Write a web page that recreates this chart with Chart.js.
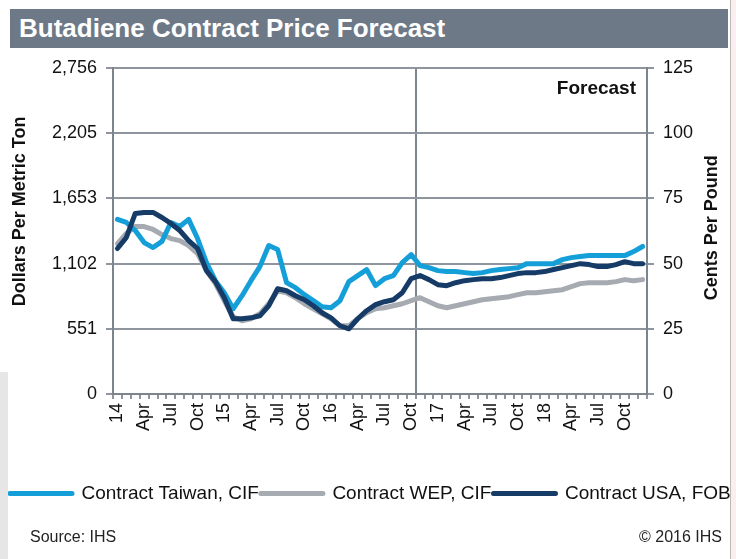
<!DOCTYPE html>
<html>
<head>
<meta charset="utf-8">
<script src="https://cdn.jsdelivr.net/npm/chart.js@4.4.1/dist/chart.umd.min.js"></script>
<style>
  body { margin:0; width:736px; height:559px; overflow:hidden; background:#fbeeee; position:relative;
         font-family:"Liberation Sans", Arial, sans-serif; }
  #page { position:absolute; left:0; top:0; width:730px; height:559px; background:#fff;
          border-right:1px solid #b9b9b9; overflow:hidden; }
  #shade { position:absolute; left:0; top:372px; width:8px; height:187px; background:#e6e6e6; }
  #title { position:absolute; left:10px; top:9px; width:709px; height:39px; padding-left:9px;
           background:#6e7987; color:#fff; font-weight:bold; font-size:26px; line-height:39px; }
  #chart { position:absolute; left:0; top:0; }
  .foot { position:absolute; top:528px; font-size:16px; color:#222; }
</style>
</head>
<body>
<div id="page">
  <div id="shade"></div>
  <div id="title">Butadiene Contract Price Forecast</div>
  <canvas id="chart" width="780" height="559"></canvas>
  <div class="foot" style="left:30px">Source: IHS</div>
  <div class="foot" style="right:8px">© 2016 IHS</div>
</div>
<script>
// monthly categories, Jan 2014 - Dec 2018
const years = [2014, 2015, 2016, 2017, 2018];
const monthNames = ['Jan','Feb','Mar','Apr','May','Jun','Jul','Aug','Sep','Oct','Nov','Dec'];
const months = [];
years.forEach(y => monthNames.forEach(m => months.push(m + ' ' + y)));
const forecastStart = 'Nov 2016';

// tick labels
const xTickLabels = { Jan: 'year', Apr: 'Apr', Jul: 'Jul', Oct: 'Oct' };
const yTickValues = [0, 551.2, 1102.4, 1653.6, 2204.8, 2756];
const yTickLabels = ['0', '551', '1,102', '1,653', '2,205', '2,756'];

// dollars per metric ton
const taiwan = [1476,1450,1382,1280,1238,1290,1450,1416,1476,1314,
                1111,958,856,721,831,958,1077,1255,1221,941,
                899,840,789,738,729,789,950,1001,1052,916,
                975,1001,1111,1179,1085,1068,1043,1035,1035,1026,
                1018,1026,1043,1052,1060,1068,1102,1102,1102,1102,
                1136,1153,1162,1170,1170,1170,1170,1170,1204,1247];
const wep = [1272,1357,1416,1416,1391,1348,1314,1297,1255,1187,
             1043,933,789,653,619,636,678,763,873,856,
             814,763,721,678,636,577,577,636,687,721,
             729,746,763,789,814,780,746,729,746,763,
             780,797,806,814,823,840,856,856,865,873,
             882,907,933,941,941,941,950,967,958,967];
const usa = [1230,1323,1526,1535,1535,1492,1442,1382,1297,1230,
             1043,950,814,636,636,644,661,746,890,873,
             831,797,746,687,644,577,551,636,704,755,
             780,797,856,975,1001,967,924,916,941,958,
             967,975,975,984,1001,1018,1026,1026,1035,1052,
             1068,1085,1102,1094,1077,1077,1094,1119,1102,1102];

const FONT = '"Liberation Sans", Arial, sans-serif';
const GRID = '#8e959e';
const AXIS = '#7c848e';

const extraText = {
  id: 'extraText',
  afterDraw(chart) {
    const { ctx, chartArea } = chart;
    ctx.save();
    ctx.fillStyle = '#111';
    ctx.font = 'bold 18px ' + FONT;
    ctx.textAlign = 'center';
    ctx.textBaseline = 'middle';
    ctx.save();
    ctx.translate(chartArea.left - 93, chartArea.top + chartArea.height * 0.44);
    ctx.rotate(-Math.PI / 2);
    ctx.fillText('Dollars Per Metric Ton', 0, 0);
    ctx.restore();
    ctx.save();
    ctx.translate(chartArea.right + 65, chartArea.top + chartArea.height * 0.49);
    ctx.rotate(-Math.PI / 2);
    ctx.fillText('Cents Per Pound', 0, 0);
    ctx.restore();
    ctx.font = 'bold 19px ' + FONT;
    ctx.textAlign = 'right';
    ctx.fillText('Forecast', chartArea.right - 11, chartArea.top + 21);
    ctx.restore();
  }
};

new Chart(document.getElementById('chart'), {
  type: 'line',
  data: {
    labels: months,
    datasets: [
      { label: 'Contract Taiwan, CIF', data: taiwan, borderColor: '#159fd8', backgroundColor: '#159fd8', order: 1 },
      { label: 'Contract WEP, CIF', data: wep, borderColor: '#a5abb1', backgroundColor: '#a5abb1', order: 2 },
      { label: 'Contract USA, FOB', data: usa, borderColor: '#163b66', backgroundColor: '#163b66', order: 0 }
    ]
  },
  options: {
    responsive: false,
    animation: false,
    devicePixelRatio: 1,
    layout: { padding: { left: 8, right: 0, top: 68, bottom: 46 } },
    elements: {
      line: { borderWidth: 5, tension: 0, borderJoinStyle: 'round', borderCapStyle: 'round' },
      point: { radius: 0 }
    },
    plugins: {
      tooltip: { enabled: false },
      legend: {
        position: 'bottom',
        align: 'start',
        labels: {
          usePointStyle: true,
          pointStyle: 'line',
          pointStyleWidth: 62,
          padding: 2,
          color: '#111',
          font: { family: FONT, size: 19 },
          sort: (a, b) => a.datasetIndex - b.datasetIndex,
          generateLabels: chart =>
            Chart.defaults.plugins.legend.labels.generateLabels(chart).map(item => {
              const ds = chart.data.datasets[item.datasetIndex];
              return { ...item, strokeStyle: ds.borderColor, fillStyle: ds.borderColor, lineWidth: 5, lineCap: 'round' };
            })
        }
      }
    },
    scales: {
      x: {
        offset: true,
        afterFit: s => { s.height = 88; },
        grid: {
          offset: true,
          drawOnChartArea: true,
          color: c => (c.index === months.indexOf(forecastStart) ? AXIS : 'rgba(0,0,0,0)'),
          lineWidth: 2,
          tickColor: GRID,
          tickLength: 5
        },
        border: { color: AXIS, width: 2 },
        ticks: {
          autoSkip: false,
          maxRotation: 90,
          minRotation: 90,
          padding: 4,
          color: '#111',
          font: { family: FONT, size: 18 },
          callback: (v, i) => {
            const [m, y] = months[i].split(' ');
            const t = xTickLabels[m];
            if (!t) return '';
            return t === 'year' ? y.slice(2) : t;
          }
        }
      },
      y: {
        position: 'left',
        min: 0,
        max: 2756,
        afterFit: s => { s.width = 105; },
        afterBuildTicks: s => { s.ticks = yTickValues.map(v => ({ value: v })); },
        grid: { color: GRID, lineWidth: 2, tickLength: 7 },
        border: { color: AXIS, width: 2 },
        ticks: {
          padding: 9,
          color: '#111',
          font: { family: FONT, size: 18 },
          callback: (v, i) => yTickLabels[i]
        }
      },
      y1: {
        position: 'right',
        min: 0,
        max: 125,
        afterFit: s => { s.width = 133; },
        grid: { drawOnChartArea: false, color: GRID, lineWidth: 2, tickLength: 7 },
        border: { color: AXIS, width: 2 },
        ticks: {
          stepSize: 25,
          padding: 9,
          color: '#111',
          font: { family: FONT, size: 18 }
        }
      }
    }
  },
  plugins: [extraText]
});
</script>
</body>
</html>
